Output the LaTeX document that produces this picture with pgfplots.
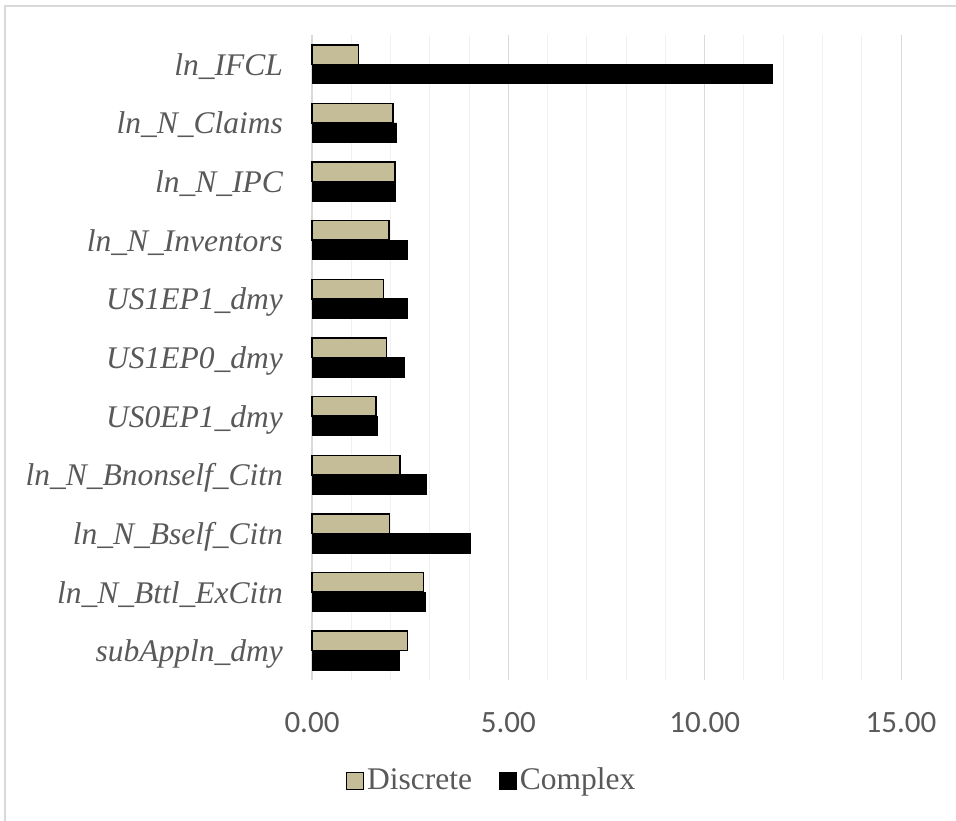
\documentclass[border=0pt]{standalone}
\usepackage{pgfplots}
\pgfplotsset{compat=1.18}
\usepackage{fontspec}
\setmainfont{Liberation Serif}
\newfontfamily\carlito{Carlito}
\definecolor{tanbar}{HTML}{C4BD97}
\definecolor{txtgray}{HTML}{595959}
\definecolor{majgrid}{HTML}{D9D9D9}
\definecolor{mingrid}{HTML}{F0F0F0}
\begin{document}
\fontsize{31.5pt}{38pt}\selectfont
\begin{tikzpicture}
\useasboundingbox (0pt,0pt) rectangle (956pt,821pt);
\fill[white] (0pt,0pt) rectangle (956pt,821pt);
\draw[majgrid,line width=1.5pt] (5pt,0pt) -- (5pt,815pt) -- (956pt,815pt);
\begin{axis}[
  at={(312pt,141pt)}, anchor=south west,
  scale only axis, width=589pt, height=645pt,
  xmin=0, xmax=15, ymin=-0.5, ymax=10.5,
  y dir=reverse,
  xbar, bar width=19.5pt,
  axis line style={draw=none},
  axis x line*=bottom, axis y line*=left,
  xtick={0,5,10,15}, minor xtick={1,2,3,4,6,7,8,9,11,12,13,14},
  xmajorgrids, xminorgrids,
  major grid style={majgrid, line width=1pt},
  minor grid style={mingrid, line width=1pt},
  major tick length=0pt, minor tick length=0pt,
  ytick={0,...,10},
  yticklabels={ln\_IFCL, ln\_N\_Claims, ln\_N\_IPC, ln\_N\_Inventors, US1EP1\_dmy, US1EP0\_dmy, US0EP1\_dmy, ln\_N\_Bnonself\_Citn, ln\_N\_Bself\_Citn, ln\_N\_Bttl\_ExCitn, subAppln\_dmy},
  yticklabel style={font=\fontsize{31.5pt}{38pt}\selectfont\itshape, text=txtgray, anchor=base east, inner sep=0pt, xshift=-29pt, yshift=-11pt},
  xticklabel style={font=\fontsize{31pt}{38pt}\selectfont\carlito, text=txtgray, anchor=base, inner sep=0pt, yshift=-52pt},
  /pgf/number format/assume math mode=true,
  xticklabel={\pgfmathprintnumber[fixed,fixed zerofill,precision=2]{\tick}},
  clip=false,
  legend columns=2,
  legend style={at={(axis description cs:0.3056,-0.1566)}, anchor=center, draw=none, fill=none,
    font=\fontsize{31.5pt}{38pt}\selectfont, text=txtgray,
    /tikz/every even column/.append style={column sep=24pt},
    nodes={inner sep=3pt}},
  legend image code/.code={\draw[#1] (0pt,-8.5pt) rectangle (17pt,8.5pt);},
]
\draw[majgrid, line width=2pt] (axis cs:0,-0.5) -- (axis cs:0,10.5);
\addplot[fill=tanbar, draw=black, line width=1.5pt, bar shift=9.75pt] coordinates {
(1.18,0) (2.06,1) (2.11,2) (1.96,3) (1.82,4) (1.90,5) (1.63,6) (2.24,7) (1.98,8) (2.84,9) (2.43,10)};
\addlegendentry{Discrete}
\addplot[fill=black, draw=black, line width=0.8pt, bar shift=-9.75pt] coordinates {
(11.72,0) (2.16,1) (2.13,2) (2.43,3) (2.42,4) (2.35,5) (1.67,6) (2.91,7) (4.03,8) (2.90,9) (2.23,10)};
\addlegendentry{Complex}
\end{axis}
\end{tikzpicture}
\end{document}
